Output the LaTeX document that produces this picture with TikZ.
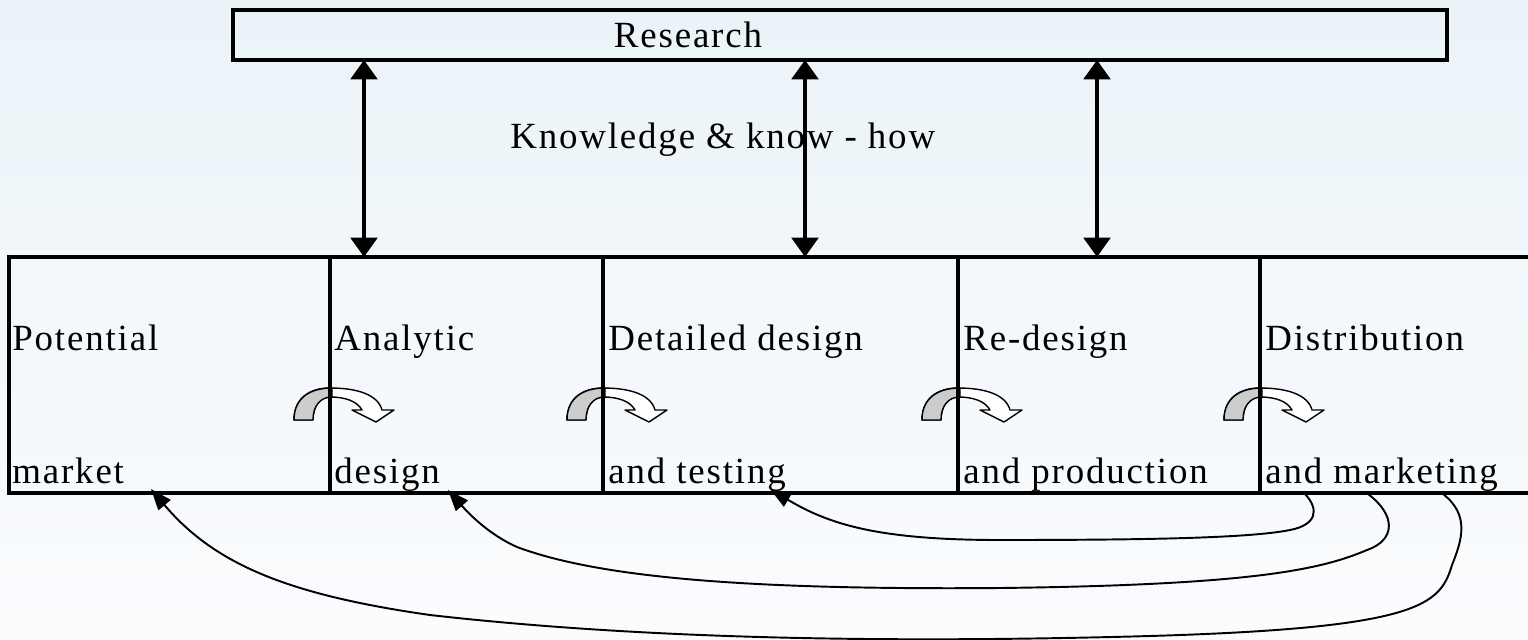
\documentclass[tikz,border=0pt]{standalone}
\usepackage{fontspec}
\setmainfont{Liberation Serif}[LetterSpace=5]
\usepackage{tikz}
\usetikzlibrary{arrows.meta,positioning}
\definecolor{bgTop}{RGB}{234,243,248}
\definecolor{bgBottom}{RGB}{251,252,254}
\definecolor{turnGray}{RGB}{204,204,204}

\tikzset{
  stagebox/.style={draw, line width=2.4pt, inner sep=0pt, outer sep=0pt, minimum height=4.72cm},
  lbl/.style={anchor=base west, inner sep=0pt, font=\fontsize{21}{24}\selectfont},
  knowarrow/.style={line width=2.4pt, {Triangle[length=11pt,width=15pt]}-{Triangle[length=11pt,width=15pt]}},
  backarrow/.style={line width=1.1pt, -{Triangle[length=12pt,width=9pt]}},
}

\begin{document}
\begin{tikzpicture}[x=0.02cm, y=-0.02cm]
  \useasboundingbox (0,0) rectangle (1528,639);
  \fill[top color=bgTop, bottom color=bgBottom] (0,0) rectangle (1528,639);

  % Turn arrows between the stages
  \foreach \d in {330,603,958,1260}{
    \begin{scope}[shift={(\d,0)}]
      \filldraw[fill=white, line width=0.8pt, line join=round] (-36,420) .. controls (-36,398) and (-20,388) .. (0,388) .. controls (28,388) and (48,395) .. (52,410) -- (64,410) -- (46,422) -- (22,410) -- (32,410) .. controls (27,401) and (15,397) .. (0,397) .. controls (-10,397) and (-17,406) .. (-17,420) -- cycle;
      \filldraw[fill=turnGray, line width=0.8pt, line join=round] (-36,420) .. controls (-36,398) and (-20,388) .. (2,388) -- (2,397) .. controls (-10,397) and (-17,406) .. (-17,420) -- cycle;
    \end{scope}
  }

  % Research
  \node[draw, line width=2.4pt, inner sep=0pt, outer sep=0pt, minimum width=24.28cm, minimum height=1cm] (research) at (840,35) {};
  \node[lbl, anchor=base] (researchlbl) at (688,47) {Research};
  \node[lbl] (know) at (510,148) {Knowledge \& know - how};

  % Stages
  \node[stagebox, minimum width=6.42cm] (pot) at (169.5,375) {};
  \node[stagebox, minimum width=5.46cm] (ana) at (466.5,375) {};
  \node[stagebox, minimum width=7.10cm] (det) at (780.5,375) {};
  \node[stagebox, minimum width=6.04cm] (red) at (1109,375) {};
  \node[stagebox, minimum width=5.44cm] (dis) at (1396,375) {};

  \node[lbl] (pot1) at (12,350) {Potential};
  \node[lbl] (pot2) at (12,483) {market};
  \node[lbl] (ana1) at (334,350) {Analytic};
  \node[lbl] (ana2) at (334,483) {design};
  \node[lbl] (det1) at (608,350) {Detailed design};
  \node[lbl] (det2) at (608,483) {and testing};
  \node[lbl] (red1) at (963,350) {Re-design};
  \node[lbl] (red2) at (963,483) {and production};
  \node[lbl] (dis1) at (1265,350) {Distribution};
  \node[lbl] (dis2) at (1265,483) {and marketing};

  % Knowledge arrows
  \coordinate (k1) at (364,257);
  \coordinate (k2) at (805,257);
  \coordinate (k3) at (1097,257);
  \draw[knowarrow] (k1 |- research.south) -- (k1);
  \draw[knowarrow] (k2 |- research.south) -- (k2);
  \draw[knowarrow] (k3 |- research.south) -- (k3);

  % Feedback loops
  \coordinate (s1) at (1305,494);
  \coordinate (s2) at (1368,494);
  \coordinate (s3) at (1443,494);
  \coordinate (e1) at (770,489);
  \coordinate (e2) at (448,490);
  \coordinate (e3) at (151,489);
  \draw[backarrow] (s1) .. controls (1320,510) and (1316,525) .. (1290,530)
    .. controls (1250,538) and (1150,540) .. (1000,540)
    .. controls (880,540) and (830,525) .. (e1);
  \draw[backarrow] (s2) .. controls (1396,515) and (1396,540) .. (1367,550)
    .. controls (1320,570) and (1250,585) .. (1000,588)
    .. controls (750,590) and (600,578) .. (517,547)
    .. controls (490,535) and (470,515) .. (e2);
  \draw[backarrow] (s3) .. controls (1470,515) and (1462,540) .. (1452,565)
    .. controls (1440,605) and (1420,628) .. (1150,636)
    .. controls (900,643) and (650,640) .. (430,615)
    .. controls (290,595) and (215,565) .. (e3);
\end{tikzpicture}
\end{document}
